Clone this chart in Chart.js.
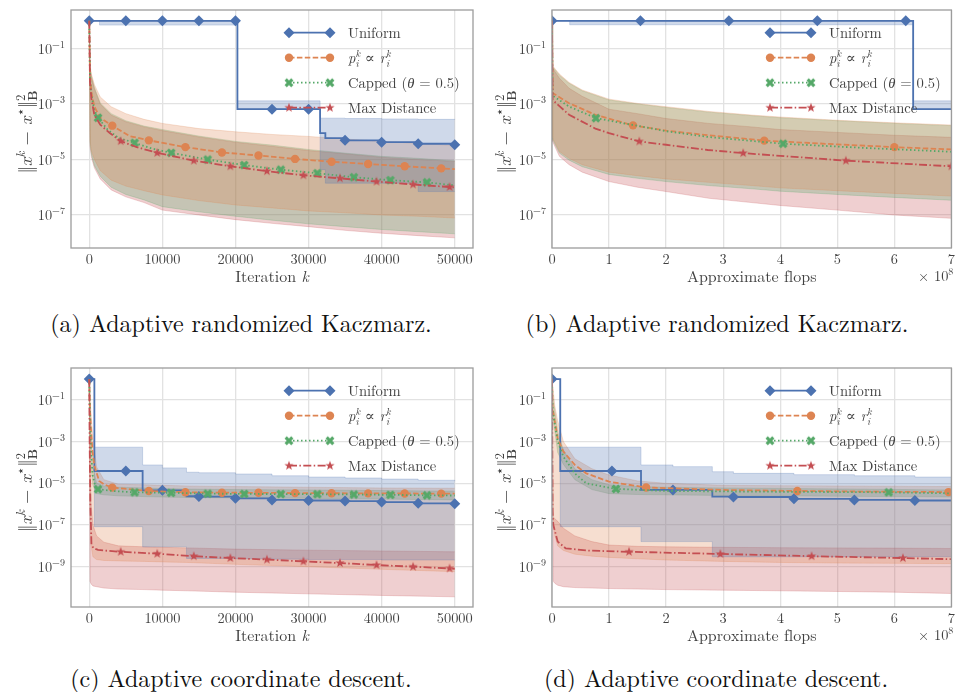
<!DOCTYPE html>
<html><head><meta charset="utf-8">
<script src="https://cdn.jsdelivr.net/npm/chart.js@4.4.1/dist/chart.umd.min.js"></script>
<style>
html,body{margin:0;padding:0;background:#fff;width:958px;height:692px;overflow:hidden;}
canvas{position:absolute;}
.cap{position:absolute;width:480px;line-height:30px;text-align:center;white-space:nowrap;font-family:'Latin Modern Roman','Liberation Serif',serif;font-size:24px;color:#111;}
</style></head>
<body>
<canvas id="ca" width="479" height="300" style="left:0;top:0"></canvas>
<canvas id="cb" width="479" height="300" style="left:479px;top:0"></canvas>
<canvas id="cc" width="479" height="300" style="left:0;top:358px"></canvas>
<canvas id="cd" width="479" height="300" style="left:479px;top:358px"></canvas>
<div class="cap" id="capA" style="left:1px;top:307px"></div>
<div class="cap" id="capB" style="left:477px;top:307px"></div>
<div class="cap" id="capC" style="left:1px;top:662px"></div>
<div class="cap" id="capD" style="left:476px;top:662px"></div>
<script>
// ================= DATA =================
const seriesNames = ['Uniform', '$p_i^k \\propto r_i^k$', 'Capped ($\\theta = 0.5$)', 'Max Distance'];
const captions = ['(a) Adaptive randomized Kaczmarz.', '(b) Adaptive randomized Kaczmarz.', '(c) Adaptive coordinate descent.', '(d) Adaptive coordinate descent.'];
const yTitle = '$\\|x^k - x^\\star\\|_{\\mathbf{B}}^2$';
const xTitleIter = 'Iteration $k$';
const xTitleFlops = 'Approximate flops';
const flopsOffset = '$\\times 10^8$';

const iterTicks = [0, 10000, 20000, 30000, 40000, 50000];
const iterTickText = ['0', '10000', '20000', '30000', '40000', '50000'];
const flopTicks = [0, 1e8, 2e8, 3e8, 4e8, 5e8, 6e8, 7e8];
const flopTickText = ['0', '1', '2', '3', '4', '5', '6', '7'];
const yTicksAB = [1e-1, 1e-3, 1e-5, 1e-7];
const yTickTextAB = ['$10^{-1}$', '$10^{-3}$', '$10^{-5}$', '$10^{-7}$'];
const yTicksCD = [1e-1, 1e-3, 1e-5, 1e-7, 1e-9];
const yTickTextCD = ['$10^{-1}$', '$10^{-3}$', '$10^{-5}$', '$10^{-7}$', '$10^{-9}$'];

// ---- (a) Kaczmarz, iterations ----
const aUniX  = [0, 1400, 5000, 10000, 15000, 20000, 20270, 25000, 30000, 31580, 32300, 35000, 40000, 45000, 50000];
const aUniY  = [1, 1, 1, 1, 1, 1, 6.5e-4, 6.5e-4, 6.5e-4, 8.9e-5, 5.9e-5, 4.9e-5, 4.2e-5, 3.7e-5, 3.4e-5];
const aUniHi = [1, 1, 1, 1, 1, 1, 1.3e-3, 1.3e-3, 1.3e-3, 3.1e-4, 3.1e-4, 3e-4, 2.9e-4, 2.8e-4, 2.7e-4];
const aUniLo = [1, 0.7, 0.7, 0.7, 0.7, 0.7, 6.5e-4, 6.5e-4, 6.5e-4, 4.3e-6, 1.4e-6, 1.4e-6, 1.4e-6, 7e-7, 7e-7];
const aUniMk = [0, 5000, 10000, 15000, 20000, 25000, 30000, 35000, 40000, 45000, 50000];
const aBandX  = [0, 100, 300, 700, 1500, 3000, 5000, 7500, 10000, 15000, 20000, 25000, 30000, 35000, 40000, 45000, 50000];
const aPropHi = [1, 2.5e-2, 1.2e-2, 5e-3, 1.8e-3, 8e-4, 4.5e-4, 2.8e-4, 2e-4, 1.3e-4, 1e-4, 8e-5, 6.8e-5, 5.5e-5, 4.5e-5, 3.8e-5, 3.2e-5];
const aPropLo = [1, 5e-5, 2e-5, 1e-5, 4e-6, 1.8e-6, 1.1e-6, 7.5e-7, 5.3e-7, 3.3e-7, 2.3e-7, 1.8e-7, 1.4e-7, 1.2e-7, 1e-7, 9e-8, 7.8e-8];
const aCapHi  = [1, 2e-2, 1e-2, 4e-3, 1.1e-3, 4.5e-4, 2.5e-4, 1.6e-4, 1.2e-4, 7e-5, 4.5e-5, 3.3e-5, 2.3e-5, 1.7e-5, 1.3e-5, 1.1e-5, 9e-6];
const aCapLo  = [1, 4e-5, 1.5e-5, 6e-6, 2.5e-6, 1e-6, 5.5e-7, 3.5e-7, 2e-7, 1.3e-7, 9e-8, 6.5e-8, 4.8e-8, 3.8e-8, 3e-8, 2.5e-8, 2.1e-8];
const aMaxHi  = [1, 1.8e-2, 9e-3, 3.5e-3, 1e-3, 4e-4, 2.3e-4, 1.5e-4, 1.1e-4, 6.5e-5, 4.2e-5, 3e-5, 2.1e-5, 1.6e-5, 1.2e-5, 1e-5, 8.5e-6];
const aMaxLo  = [1, 3e-5, 1.2e-5, 5e-6, 2e-6, 8e-7, 4.5e-7, 2.8e-7, 1.5e-7, 1e-7, 6.8e-8, 5e-8, 3.8e-8, 2.8e-8, 2.2e-8, 1.8e-8, 1.5e-8];
const aPropX = [0, 100, 300, 700, 1500, 3150, 5500, 8150, 13150, 18150, 23150, 28150, 33150, 38150, 43150, 48150, 50000];
const aPropY = [1, 1e-2, 2.5e-3, 8e-4, 3.2e-4, 1.66e-4, 7e-5, 4.9e-5, 2.8e-5, 1.8e-5, 1.4e-5, 1.05e-5, 8.3e-6, 6.9e-6, 5.7e-6, 4.8e-6, 4.5e-6];
const aPropMk = [3150, 8150, 13150, 18150, 23150, 28150, 33150, 38150, 43150, 48150];
const aCapX = [0, 100, 300, 700, 1200, 2500, 4000, 6200, 8500, 11200, 16200, 21200, 26200, 31200, 36200, 41200, 46200, 50000];
const aCapY = [1, 8e-3, 2e-3, 6e-4, 3.2e-4, 1.2e-4, 6e-5, 4e-5, 2.5e-5, 1.74e-5, 1e-5, 6.3e-6, 4.3e-6, 3.2e-6, 2.3e-6, 1.8e-6, 1.5e-6, 1.17e-6];
const aCapMk = [1200, 6200, 11200, 16200, 21200, 26200, 31200, 36200, 41200, 46200];
const aMaxX = [0, 100, 300, 700, 1500, 2800, 4300, 6500, 9300, 14300, 19300, 24300, 29300, 34300, 39300, 44300, 49300, 50000];
const aMaxY = [1, 6e-3, 1.5e-3, 4e-4, 1.8e-4, 9e-5, 4.6e-5, 2.8e-5, 1.74e-5, 9.1e-6, 5.7e-6, 3.8e-6, 2.7e-6, 2.1e-6, 1.6e-6, 1.26e-6, 1.02e-6, 9.8e-7];
const aMaxMk = [4300, 9300, 14300, 19300, 24300, 29300, 34300, 39300, 44300, 49300];

// ---- (b) Kaczmarz, flops ----
const bUniX  = [0, 0.31e8, 1.55e8, 3.1e8, 4.65e8, 6.2e8, 6.33e8, 7e8];
const bUniY  = [1, 1, 1, 1, 1, 1, 6.6e-4, 6.5e-4];
const bUniHi = [1, 1, 1, 1, 1, 1, 1.3e-3, 1.3e-3];
const bUniLo = [1, 0.72, 0.72, 0.72, 0.72, 0.72, 6.5e-4, 6.5e-4];
const bUniMk = [0, 1.55e8, 3.1e8, 4.65e8, 6.2e8];
const bBandX  = [0, 0.01e8, 0.13e8, 0.3e8, 0.53e8, 1e8, 1.5e8, 2e8, 2.75e8, 3.5e8, 4e8, 5e8, 6e8, 7e8];
const bPropHi = [1, 2.4e-2, 1.2e-2, 6e-3, 3.2e-3, 1.5e-3, 1.05e-3, 8e-4, 5.4e-4, 4e-4, 3.4e-4, 2.6e-4, 2.1e-4, 1.75e-4];
const bPropLo = [1, 5.9e-5, 1.95e-5, 1.1e-5, 6.5e-6, 3.5e-6, 2.6e-6, 2e-6, 1.5e-6, 1.15e-6, 9.5e-7, 7.5e-7, 6e-7, 4.8e-7];
const bCapHi  = [1, 2.2e-2, 1.1e-2, 5.6e-3, 3e-3, 1.4e-3, 1e-3, 7.5e-4, 5.1e-4, 3.8e-4, 3.2e-4, 2.5e-4, 2e-4, 1.66e-4];
const bCapLo  = [1, 5.3e-5, 1.7e-5, 9.5e-6, 5.5e-6, 2.9e-6, 2.1e-6, 1.6e-6, 1.15e-6, 8.8e-7, 7.2e-7, 5.5e-7, 4.3e-7, 3.4e-7];
const bMaxHi  = [1, 2e-2, 8.5e-3, 3.7e-3, 1.9e-3, 6.5e-4, 4.5e-4, 3e-4, 2e-4, 1.5e-4, 1.2e-4, 9.5e-5, 7.5e-5, 6.3e-5];
const bMaxLo  = [1, 4.5e-5, 1.3e-5, 6.5e-6, 3.5e-6, 1.6e-6, 1e-6, 7e-7, 4e-7, 2.8e-7, 2.2e-7, 1.5e-7, 1e-7, 7.6e-8];
const bPropX = [0, 0.01e8, 0.3e8, 0.76e8, 1.42e8, 2e8, 2.73e8, 3.72e8, 5e8, 6e8, 7e8];
const bPropY = [1, 2.5e-3, 1.07e-3, 4.1e-4, 1.7e-4, 1.1e-4, 7.5e-5, 4.8e-5, 3.5e-5, 2.8e-5, 2.3e-5];
const bPropMk = [1.42e8, 3.72e8, 6e8];
const bCapX = [0, 0.01e8, 0.3e8, 0.77e8, 2e8, 2.73e8, 4.05e8, 5.5e8, 7e8];
const bCapY = [1, 2e-3, 8.1e-4, 3.1e-4, 1.05e-4, 6.5e-5, 3.7e-5, 2.6e-5, 1.9e-5];
const bCapMk = [0.77e8, 4.05e8];
const bMaxX = [0, 0.01e8, 0.3e8, 0.76e8, 1e8, 1.53e8, 2e8, 2.73e8, 3.35e8, 5.15e8, 7e8];
const bMaxY = [1, 1.4e-3, 4.1e-4, 1.3e-4, 8.9e-5, 4.5e-5, 3.4e-5, 2.2e-5, 1.7e-5, 9.1e-6, 5.7e-6];
const bMaxMk = [1.53e8, 3.35e8, 5.15e8, 7e8];

// ---- (c) coordinate descent, iterations ----
const cUniX  = [0, 700, 5000, 7300, 10000, 13300, 15000, 20000, 25000, 30000, 35000, 40000, 45000, 50000];
const cUniY  = [1, 3.9e-5, 3.9e-5, 4.6e-6, 4.6e-6, 2.4e-6, 2.3e-6, 1.9e-6, 1.6e-6, 1.5e-6, 1.4e-6, 1.26e-6, 1.1e-6, 1.05e-6];
const cUniHi = [1, 5.4e-4, 5.4e-4, 7.6e-5, 5.5e-5, 3.4e-5, 3.2e-5, 2.8e-5, 2.3e-5, 2e-5, 1.8e-5, 1.6e-5, 1.4e-5, 1.26e-5];
const cUniLo = [1, 8.3e-8, 8.3e-8, 9e-9, 9e-9, 2.5e-9, 2.5e-9, 2.4e-9, 2.3e-9, 2.2e-9, 2.2e-9, 2.1e-9, 2.1e-9, 2.1e-9];
const cUniMk = [0, 5000, 10000, 15000, 20000, 25000, 30000, 35000, 40000, 45000, 50000];
const cBandX  = [0, 100, 250, 500, 1000, 2000, 4000, 7500, 10000, 13400, 20000, 30000, 40000, 50000];
const cPropHi = [1, 0.1, 2e-2, 1.5e-3, 6e-5, 1.5e-5, 9e-6, 8.5e-6, 8e-6, 7.5e-6, 7e-6, 6.5e-6, 6e-6, 5.8e-6];
const cPropLo = [1, 1e-6, 1e-8, 3e-9, 2.2e-9, 2e-9, 1.9e-9, 1.8e-9, 1.7e-9, 1.6e-9, 1.3e-9, 1e-9, 7.5e-10, 5.8e-10];
const cCapHi  = [1, 3e-2, 1.5e-3, 6e-5, 1e-5, 7.5e-6, 6.5e-6, 6e-6, 5.6e-6, 5.3e-6, 5e-6, 4.8e-6, 4.5e-6, 4.2e-6];
const cCapLo  = [1, 3e-3, 6e-5, 8e-6, 3.2e-6, 2.8e-6, 2.5e-6, 2.3e-6, 2.2e-6, 2.1e-6, 2e-6, 1.9e-6, 1.75e-6, 1.6e-6];
const cMaxHi  = [1, 1e-4, 1e-6, 1e-7, 3e-8, 1.5e-8, 1e-8, 9e-9, 8.5e-9, 8e-9, 7e-9, 6.2e-9, 5.7e-9, 5.2e-9];
const cMaxLo  = [1, 2e-10, 1.5e-10, 1.2e-10, 1.1e-10, 9.5e-11, 8.5e-11, 8e-11, 7.5e-11, 7e-11, 6e-11, 5e-11, 4.2e-11, 3.6e-11];
const cPropX = [0, 100, 250, 450, 700, 1350, 2000, 3150, 8150, 13150, 18150, 23150, 28150, 33150, 38150, 43150, 48150, 50000];
const cPropY = [1, 3e-2, 3e-3, 3.3e-4, 7e-5, 1.3e-5, 9e-6, 6.2e-6, 4.3e-6, 3.7e-6, 3.55e-6, 3.5e-6, 3.4e-6, 3.35e-6, 3.3e-6, 3.25e-6, 3.2e-6, 3.2e-6];
const cPropMk = [3150, 8150, 13150, 18150, 23150, 28150, 33150, 38150, 43150, 48150];
const cCapX = [0, 100, 250, 450, 900, 1200, 3500, 6200, 11200, 16200, 21200, 26200, 31200, 36200, 41200, 46200, 50000];
const cCapY = [1, 1e-2, 3e-4, 2.5e-5, 6e-6, 5.2e-6, 4.2e-6, 3.7e-6, 3.5e-6, 3.2e-6, 3.1e-6, 3.05e-6, 3e-6, 2.9e-6, 2.8e-6, 2.65e-6, 2.6e-6];
const cCapMk = [1200, 6200, 11200, 16200, 21200, 26200, 31200, 36200, 41200, 46200];
const cMaxX = [0, 50, 150, 300, 600, 1200, 2500, 4300, 9300, 14300, 19300, 24300, 29300, 34300, 39300, 44300, 49300, 50000];
const cMaxY = [1, 1e-3, 1e-6, 1.1e-8, 7.8e-9, 6.4e-9, 5.8e-9, 5.2e-9, 4.2e-9, 3.2e-9, 2.6e-9, 2.2e-9, 1.8e-9, 1.5e-9, 1.2e-9, 1e-9, 8.3e-10, 8e-10];
const cMaxMk = [4300, 9300, 14300, 19300, 24300, 29300, 34300, 39300, 44300, 49300];

// ---- (d) coordinate descent, flops ----
const dUniX  = [0, 0.145e8, 1.05e8, 1.56e8, 2.12e8, 2.81e8, 3.18e8, 4.24e8, 5.3e8, 6.36e8, 7e8];
const dUniY  = [1, 3.9e-5, 3.9e-5, 4.8e-6, 4.8e-6, 2.3e-6, 2.2e-6, 1.8e-6, 1.6e-6, 1.5e-6, 1.48e-6];
const dUniHi = [1, 5.4e-4, 5.4e-4, 7.6e-5, 6.3e-5, 3.6e-5, 3e-5, 2.6e-5, 2.3e-5, 2e-5, 1.9e-5];
const dUniLo = [1, 8.3e-8, 8.3e-8, 1.6e-8, 1.6e-8, 3e-9, 3e-9, 3e-9, 3e-9, 3e-9, 3e-9];
const dUniMk = [0, 1.05e8, 2.12e8, 3.18e8, 4.24e8, 5.3e8, 6.36e8];
const dBandX  = [0, 0.02e8, 0.05e8, 0.1e8, 0.2e8, 0.4e8, 0.7e8, 1e8, 1.5e8, 2e8, 3e8, 4e8, 5e8, 6e8, 7e8];
const dPropHi = [1, 0.3, 5e-2, 1e-2, 1e-3, 1.5e-4, 5e-5, 2.5e-5, 1.3e-5, 1e-5, 8e-6, 7.7e-6, 7.5e-6, 7.3e-6, 7e-6];
const dPropLo = [1, 2e-7, 3e-8, 1e-8, 6e-9, 4e-9, 3.2e-9, 2.8e-9, 2.4e-9, 2.1e-9, 1.8e-9, 1.6e-9, 1.5e-9, 1.45e-9, 1.4e-9];
const dCapHi  = [1, 0.1, 3e-2, 3e-3, 4e-4, 5e-5, 1.5e-5, 8.5e-6, 7e-6, 6.5e-6, 6e-6, 5.7e-6, 5.4e-6, 5.1e-6, 4.8e-6];
const dCapLo  = [1, 1e-2, 3e-3, 3e-4, 8e-5, 1.5e-5, 5e-6, 3.2e-6, 2.9e-6, 2.8e-6, 2.6e-6, 2.5e-6, 2.4e-6, 2.3e-6, 2.2e-6];
const dMaxHi  = [1, 2.5e-7, 2e-7, 1.5e-7, 7e-8, 3e-8, 1.6e-8, 1.1e-8, 9.5e-9, 9e-9, 8.5e-9, 8.2e-9, 8e-9, 7.8e-9, 7.5e-9];
const dMaxLo  = [1, 2e-10, 1.6e-10, 1.3e-10, 1.1e-10, 1e-10, 9.5e-11, 9e-11, 8.5e-11, 8e-11, 7.5e-11, 7e-11, 6.5e-11, 6e-11, 5.2e-11];
const dPropX = [0, 0.01e8, 0.1e8, 0.2e8, 0.4e8, 0.6e8, 1e8, 1.65e8, 3e8, 4.3e8, 5.5e8, 6.95e8, 7e8];
const dPropY = [1, 4e-2, 1.4e-3, 3.3e-4, 7.6e-5, 3e-5, 1.2e-5, 6.3e-6, 4.8e-6, 4.3e-6, 4e-6, 3.8e-6, 3.8e-6];
const dPropMk = [1.65e8, 4.3e8, 6.95e8];
const dCapX = [0, 0.01e8, 0.1e8, 0.2e8, 0.4e8, 0.6e8, 1.12e8, 2e8, 3.5e8, 5.9e8, 7e8];
const dCapY = [1, 3e-2, 1e-3, 1.9e-4, 3e-5, 1e-5, 5.4e-6, 4.3e-6, 4e-6, 3.7e-6, 3.3e-6];
const dCapMk = [1.12e8, 5.9e8];
const dMaxX = [0, 0.01e8, 0.023e8, 0.1e8, 0.24e8, 0.6e8, 1.35e8, 2.95e8, 4.55e8, 6.15e8, 7e8];
const dMaxY = [1, 4.4e-7, 1e-7, 1.6e-8, 7.6e-9, 6e-9, 5.2e-9, 4.1e-9, 3.2e-9, 2.6e-9, 2.3e-9];
const dMaxMk = [1.35e8, 2.95e8, 4.55e8, 6.15e8];

// ================= STYLE / RENDERING =================
const FONT = "'Latin Modern Roman', 'Liberation Serif', 'DejaVu Serif', serif";
const TXT = '#404040';
const COL = {blue:'76,114,176', orange:'221,132,82', green:'85,168,104', red:'196,78,82'};

function markerCanvas(kind, color){
  const s = 12, c = document.createElement('canvas'); c.width = s; c.height = s;
  const g = c.getContext('2d'); g.fillStyle = 'rgb(' + color + ')'; g.translate(s/2, s/2);
  g.beginPath();
  if (kind === 'X') {
    g.rotate(Math.PI/4);
    const a = 4.7, w = 1.6;
    g.rect(-a, -w, 2*a, 2*w); g.rect(-w, -a, 2*w, 2*a);
  } else {
    const R = 4.9, r = 2.0;
    for (let k = 0; k < 10; k++) { const ang = -Math.PI/2 + k*Math.PI/5, rad = k % 2 ? r : R; g.lineTo(rad*Math.cos(ang), rad*Math.sin(ang)); }
    g.closePath();
  }
  g.fill('nonzero');
  return c;
}
// Chart.js 'before' = value holds from a point until the next one (step-post)
const STYLES = [
  {color: COL.blue,   dash: [],               point: 'rectRot', r: 5.5, stepped: 'before', order: 4},
  {color: COL.orange, dash: [5.5, 2.4],       point: 'circle',  r: 4.2, stepped: false,   order: 3},
  {color: COL.green,  dash: [1.5, 2.5],       point: markerCanvas('X', COL.green),  r: 4, stepped: false, order: 2},
  {color: COL.red,    dash: [8, 2.4, 1.5, 2.4], point: markerCanvas('star', COL.red), r: 4, stepped: false, order: 1},
];

// ---- tiny TeX-like text renderer ----
const SYM = {propto:'∝', theta:'θ', '|':'‖', star:'⋆', times:'×'};
const ITSYM = {theta:true};
function parseTex(src){
  const out = []; let gid = 0;
  function run(str, lvl, math, bold, gIn){
    let i = 0, last = null;
    const push = (t, it) => out.push({t, it, bd: bold, lvl, g: gIn});
    const readCmd = () => { let j = i + 1; if (/[a-zA-Z]/.test(str[j])) { while (j < str.length && /[a-zA-Z]/.test(str[j])) j++; } else j++; const n = str.slice(i+1, j); i = j; return n; };
    const readGroup = () => {
      if (str[i] === '{') { let d = 1, j = i + 1; while (j < str.length && d) { if (str[j] === '{') d++; else if (str[j] === '}') d--; j++; } const g = str.slice(i+1, j-1); i = j; return g; }
      if (str[i] === '\\') { const s = i; readCmd(); return str.slice(s, i); }
      return str[i++];
    };
    while (i < str.length) {
      const c = str[i];
      if (c === '$') { math = !math; i++; continue; }
      if (math && (c === '^' || c === '_')) {
        i++; const g = readGroup(); const id = ++gid; const start = out.length;
        run(g, lvl + (c === '^' ? 1 : -1), true, bold, gIn != null ? gIn : id);
        if (last && last.type !== c && last.end === start && out[start]) out[start].stack = true;
        last = {type: c, end: out.length}; continue;
      }
      if (math && c === '\\') {
        const n = readCmd();
        if (n === 'mathbf') { const g = readGroup(); run(g, lvl, true, true, gIn); }
        else push(SYM[n] !== undefined ? SYM[n] : n, !!ITSYM[n]);
        continue;
      }
      if (math && c === '{') { const g = readGroup(); run(g, lvl, true, bold, gIn); continue; }
      if (math && /[a-zA-Z]/.test(c)) { push(c, !bold); i++; continue; }
      if (math && c === '-') { push('−', false); i++; continue; }
      push(c, false); i++;
    }
  }
  run(src, 0, false, false, null);
  return out;
}
function texLayout(ctx, runs, x, y, size, draw){
  let gStart = 0, gEnd = null, cur = null;
  for (const r of runs) {
    if (r.g != null) {
      if (r.g !== cur) {
        if (r.stack) { gEnd = x; x = gStart; }
        else { if (gEnd != null) { x = Math.max(x, gEnd); gEnd = null; } gStart = x; }
        cur = r.g;
      }
    } else { if (gEnd != null) { x = Math.max(x, gEnd); gEnd = null; } cur = null; }
    const fs = size * Math.pow(0.7, Math.abs(r.lvl));
    ctx.font = (r.it ? 'italic ' : '') + (r.bd ? 'bold ' : '') + fs.toFixed(2) + 'px ' + FONT;
    const dy = r.lvl > 0 ? -0.4*size : (r.lvl < 0 ? 0.27*size : 0);
    if (draw) ctx.fillText(r.t, x, y + dy);
    x += ctx.measureText(r.t).width;
  }
  if (gEnd != null) x = Math.max(x, gEnd);
  return x;
}
function drawTex(ctx, src, x, y, size, align, color){
  const runs = parseTex(src);
  ctx.save(); ctx.textBaseline = 'alphabetic'; ctx.textAlign = 'left'; ctx.fillStyle = color;
  const w = texLayout(ctx, runs, 0, 0, size, false);
  const x0 = align === 'center' ? x - w/2 : (align === 'right' ? x - w : x);
  texLayout(ctx, runs, x0, y, size, true);
  ctx.restore();
  return w;
}
function drawMarker(ctx, st, x, y){
  if (typeof st.point !== 'string') { ctx.drawImage(st.point, x - st.point.width/2, y - st.point.height/2); return; }
  ctx.beginPath();
  if (st.point === 'circle') ctx.arc(x, y, st.r, 0, 2*Math.PI);
  else { ctx.moveTo(x, y - st.r); ctx.lineTo(x + st.r, y); ctx.lineTo(x, y + st.r); ctx.lineTo(x - st.r, y); ctx.closePath(); }
  ctx.fill();
}

function drawDecor(chart, P){
  const ctx = chart.ctx, a = chart.chartArea, ys = chart.scales.y;
  ctx.save(); ctx.strokeStyle = '#9c9c9c'; ctx.lineWidth = 1.3;
  ctx.strokeRect(a.left, a.top, a.right - a.left, a.bottom - a.top); ctx.restore();
  P.yTicks.forEach((v, i) => drawTex(ctx, P.yTickText[i], a.left - 6, ys.getPixelForValue(v) + 5, 14.4, 'right', TXT));
  ctx.save(); ctx.translate(32, (a.top + a.bottom)/2 + 3); ctx.rotate(-Math.PI/2);
  drawTex(ctx, yTitle, 0, 0, 18.5, 'center', TXT); ctx.restore();
  drawTex(ctx, P.xTitle, (a.left + a.right)/2, a.bottom + 34, 16, 'center', TXT);
  if (P.offset) drawTex(ctx, P.offset, a.right + 2, a.bottom + 33, 14.4, 'right', TXT);
  const lx = a.left + 218, lx2 = a.left + 259, tx = a.left + 277;
  STYLES.forEach((st, k) => {
    const y = a.top + 22.7 + 25*k;
    ctx.save(); ctx.strokeStyle = 'rgb(' + st.color + ')'; ctx.lineWidth = 1.8; ctx.setLineDash(st.dash);
    ctx.beginPath(); ctx.moveTo(lx, y); ctx.lineTo(lx2, y); ctx.stroke(); ctx.setLineDash([]);
    ctx.fillStyle = 'rgb(' + st.color + ')';
    drawMarker(ctx, st, lx, y); drawMarker(ctx, st, lx2, y);
    ctx.restore();
    drawTex(ctx, seriesNames[k], tx, y + 5, 14.6, 'left', TXT);
  });
}

function buildChart(P){
  const datasets = [];
  P.series.forEach((s, k) => {
    const st = STYLES[k];
    const hi = s.BX.map((x, i) => ({x, y: s.HI[i]}));
    const lo = s.BX.map((x, i) => ({x, y: s.LO[i]}));
    datasets.push({data: hi, fill: '+1', backgroundColor: 'rgba(' + st.color + ',0.27)', borderColor: 'rgba(' + st.color + ',0.3)', borderWidth: 0.8, pointRadius: 0, stepped: st.stepped, order: 10});
    datasets.push({data: lo, fill: false, backgroundColor: 'rgba(0,0,0,0)', borderColor: 'rgba(' + st.color + ',0.3)', borderWidth: 0.8, pointRadius: 0, stepped: st.stepped, order: 10});
  });
  P.series.forEach((s, k) => {
    const st = STYLES[k];
    const data = s.X.map((x, i) => ({x, y: s.Y[i]}));
    const mk = new Set(s.MK);
    datasets.push({
      data, fill: false, borderColor: 'rgb(' + st.color + ')', backgroundColor: 'rgb(' + st.color + ')',
      borderWidth: 1.8, borderDash: st.dash, stepped: st.stepped, order: st.order,
      pointStyle: st.point, pointBorderWidth: 0, pointBackgroundColor: 'rgb(' + st.color + ')',
      pointRadius: c => (c.dataIndex != null && data[c.dataIndex] && mk.has(data[c.dataIndex].x)) ? st.r : 0
    });
  });
  const grid = {color: '#e2e2e2', lineWidth: 1.3, drawTicks: false};
  new Chart(document.getElementById(P.id), {
    type: 'line',
    data: {datasets},
    options: {
      responsive: false, animation: false, events: [],
      layout: {padding: {top: 10, right: P.padRight, left: 0, bottom: 0}},
      plugins: {legend: {display: false}, tooltip: {enabled: false}},
      scales: {
        x: {type: 'linear', min: P.xMin, max: P.xMax, grid, border: {display: false},
            afterBuildTicks: sc => { sc.ticks = P.xTicks.map(v => ({value: v})); },
            afterFit: sc => { sc.height = P.xH; },
            ticks: {autoSkip: false, maxRotation: 0, padding: 3, color: TXT, font: {family: FONT, size: 14.4},
                    callback: (v, i) => P.xTickText[i]}},
        y: {type: 'logarithmic', min: P.yMin, max: P.yMax, grid, border: {display: false},
            afterBuildTicks: sc => { sc.ticks = P.yTicks.map(v => ({value: v})); },
            afterFit: sc => { sc.width = P.yW; },
            ticks: {display: false}}
      }
    },
    plugins: [{id: 'decor', afterDraw: chart => drawDecor(chart, P)}]
  });
}

const panels = [
  {id: 'ca', xMin: -2500, xMax: 52500, xTicks: iterTicks, xTickText: iterTickText, xTitle: xTitleIter, offset: null,
   yMin: 6.46e-9, yMax: 2.45, yTicks: yTicksAB, yTickText: yTickTextAB, padRight: 6, yW: 71, xH: 52,
   series: [
     {X: aUniX, Y: aUniY, MK: aUniMk, BX: aUniX, HI: aUniHi, LO: aUniLo},
     {X: aPropX, Y: aPropY, MK: aPropMk, BX: aBandX, HI: aPropHi, LO: aPropLo},
     {X: aCapX, Y: aCapY, MK: aCapMk, BX: aBandX, HI: aCapHi, LO: aCapLo},
     {X: aMaxX, Y: aMaxY, MK: aMaxMk, BX: aBandX, HI: aMaxHi, LO: aMaxLo}]},
  {id: 'cb', xMin: 0, xMax: 7e8, xTicks: flopTicks, xTickText: flopTickText, xTitle: xTitleFlops, offset: flopsOffset,
   yMin: 6.46e-9, yMax: 2.45, yTicks: yTicksAB, yTickText: yTickTextAB, padRight: 3, yW: 73, xH: 52,
   series: [
     {X: bUniX, Y: bUniY, MK: bUniMk, BX: bUniX, HI: bUniHi, LO: bUniLo},
     {X: bPropX, Y: bPropY, MK: bPropMk, BX: bBandX, HI: bPropHi, LO: bPropLo},
     {X: bCapX, Y: bCapY, MK: bCapMk, BX: bBandX, HI: bCapHi, LO: bCapLo},
     {X: bMaxX, Y: bMaxY, MK: bMaxMk, BX: bBandX, HI: bMaxHi, LO: bMaxLo}]},
  {id: 'cc', xMin: -2500, xMax: 52500, xTicks: iterTicks, xTickText: iterTickText, xTitle: xTitleIter, offset: null,
   yMin: 1.17e-11, yMax: 3.39, yTicks: yTicksCD, yTickText: yTickTextCD, padRight: 6, yW: 71, xH: 51,
   series: [
     {X: cUniX, Y: cUniY, MK: cUniMk, BX: cUniX, HI: cUniHi, LO: cUniLo},
     {X: cPropX, Y: cPropY, MK: cPropMk, BX: cBandX, HI: cPropHi, LO: cPropLo},
     {X: cCapX, Y: cCapY, MK: cCapMk, BX: cBandX, HI: cCapHi, LO: cCapLo},
     {X: cMaxX, Y: cMaxY, MK: cMaxMk, BX: cBandX, HI: cMaxHi, LO: cMaxLo}]},
  {id: 'cd', xMin: 0, xMax: 7e8, xTicks: flopTicks, xTickText: flopTickText, xTitle: xTitleFlops, offset: flopsOffset,
   yMin: 1.17e-11, yMax: 3.39, yTicks: yTicksCD, yTickText: yTickTextCD, padRight: 3, yW: 73, xH: 51,
   series: [
     {X: dUniX, Y: dUniY, MK: dUniMk, BX: dUniX, HI: dUniHi, LO: dUniLo},
     {X: dPropX, Y: dPropY, MK: dPropMk, BX: dBandX, HI: dPropHi, LO: dPropLo},
     {X: dCapX, Y: dCapY, MK: dCapMk, BX: dBandX, HI: dCapHi, LO: dCapLo},
     {X: dMaxX, Y: dMaxY, MK: dMaxMk, BX: dBandX, HI: dMaxHi, LO: dMaxLo}]}
];
panels.forEach(buildChart);
['capA', 'capB', 'capC', 'capD'].forEach((id, i) => { document.getElementById(id).textContent = captions[i]; });
</script>
</body></html>
